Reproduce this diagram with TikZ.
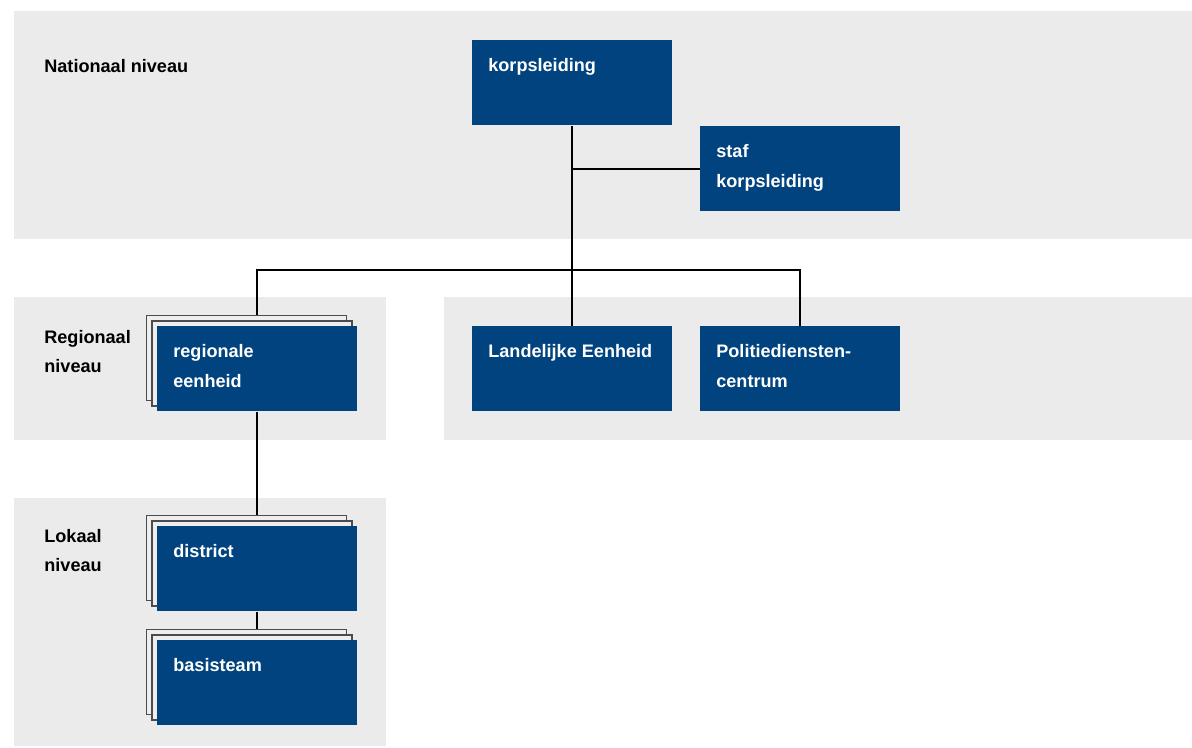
\documentclass[tikz,border=0pt]{standalone}
\usepackage{fontspec}
\setmainfont{Liberation Sans}
\usetikzlibrary{shadows}
\definecolor{polblue}{HTML}{01437F}
\definecolor{panelgray}{HTML}{EBEBEB}
\definecolor{stackgray}{HTML}{EEEEEE}

\begin{document}
\begin{tikzpicture}[x=0.02cm, y=-0.02cm,
    font=\fontsize{10.3pt}{16.8pt}\selectfont\bfseries,
    panel/.style={fill=panelgray},
    unit/.style={fill=polblue, minimum width=4cm, minimum height=1.7cm, inner sep=0pt, anchor=north west,
        label={[anchor=north west, xshift=0.32cm, yshift=-0.37cm, inner sep=0pt, align=left, text=white]north west:#1}},
    stack/.style={
        copy shadow={shadow xshift=-0.22cm, shadow yshift=0.22cm, fill=stackgray, draw=black!70, line width=0.9pt},
        copy shadow={shadow xshift=-0.11cm, shadow yshift=0.11cm, fill=stackgray, draw=black!70, line width=0.9pt}},
    levelname/.style={anchor=north west, inner sep=0pt, align=left},
    link/.style={line width=1.1pt}]

    \useasboundingbox (0,0) rectangle (1192,747);

    % levels
    \fill[panel] (14,11) rectangle (1192,239);
    \fill[panel] (14,297) rectangle (386,440);
    \fill[panel] (444,297) rectangle (1192,440);
    \fill[panel] (14,498) rectangle (386,746);

    \node[levelname] (nat) at (44,59) {Nationaal niveau};
    \node[levelname] (regn) at (44,330) {Regionaal\\niveau};
    \node[levelname] (lok) at (44,529) {Lokaal\\niveau};

    % units
    \node[unit={korpsleiding}] (korps) at (472,40) {};
    \node[unit={staf\\korpsleiding}] (staf) at (700,126) {};

    \node[unit={regionale\\eenheid}, stack] (reg) at (157,326) {};
    \node[unit={Landelijke Eenheid}] (land) at (472,326) {};
    \node[unit={Politiediensten-\\centrum}] (pol) at (700,326) {};

    \node[unit={district}, stack] (dist) at (157,526) {};
    \node[unit={basisteam}, stack] (basis) at (157,640) {};

    % lines
    \coordinate (bus) at (572,270);
    \draw[link] (korps.south) -- (land.north);
    \draw[link] (korps.south |- staf.west) -- (staf.west);
    \draw[link] ([yshift=0.22cm]reg.north) |- (bus) -| (pol.north);
    \draw[link] (reg.south) -- ([yshift=0.22cm]dist.north);
    \draw[link] (dist.south) -- ([yshift=0.22cm]basis.north);

\end{tikzpicture}
\end{document}
